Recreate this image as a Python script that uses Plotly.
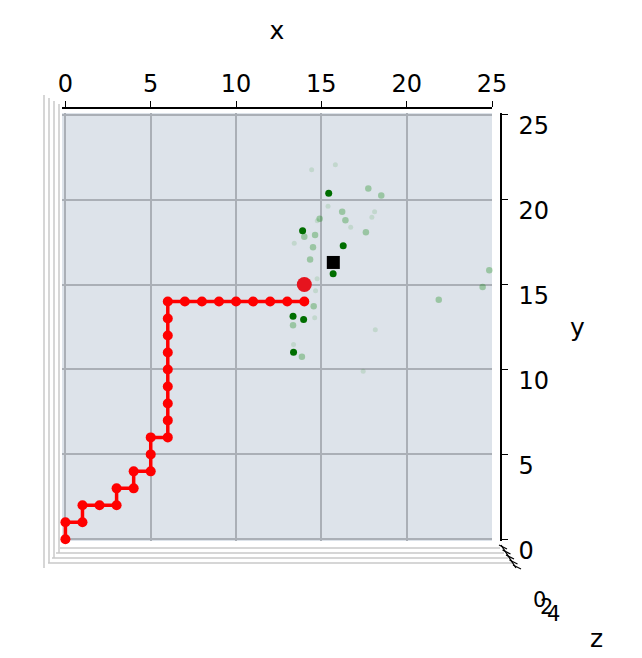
import plotly.graph_objects as go

# ---- data ----
path_x = [0, 0, 1, 1, 2, 3, 3, 4, 4, 5, 5, 5, 6, 6, 6, 6, 6, 6, 6, 6, 6, 7, 8, 9, 10, 11, 12, 13, 14]
path_y = [0, 1, 1, 2, 2, 2, 3, 3, 4, 4, 5, 6, 6, 7, 8, 9, 10, 11, 12, 13, 14, 14, 14, 14, 14, 14, 14, 14, 14]

current_x = [14.0]
current_y = [15.0]

goal_x = [15.7]
goal_y = [16.3]

dark_x = [15.43, 13.90, 16.28, 15.69, 13.34, 13.96, 13.37]
dark_y = [20.37, 18.16, 17.28, 15.63, 13.14, 12.94, 11.02]

mid_x = [17.75, 18.51, 14.63, 14.51, 14.34, 17.61, 14.00, 16.41, 16.22, 14.55, 21.88, 24.45, 24.84, 13.34, 13.86, 14.90]
mid_y = [20.66, 20.24, 17.92, 17.19, 16.47, 18.08, 17.81, 18.78, 19.29, 13.72, 14.10, 14.86, 15.84, 12.61, 10.75, 18.88]

faint_x = [15.82, 18.12, 17.96, 16.72, 14.76, 13.41, 15.39, 14.66, 14.61, 18.16, 28.08, 25.72, 13.37, 14.43, 17.45, 12.94, 14.75]
faint_y = [22.06, 19.29, 18.96, 18.37, 18.76, 17.43, 19.61, 14.63, 13.04, 12.34, 18.00, 14.41, 11.47, 21.76, 9.90, 13.88, 15.34]

tick_vals = [0, 5, 10, 15, 20, 25]
z_tick_labels = ["0", "2", "4"]

FONT = "DejaVu Sans"
FS = 24

fig = go.Figure()

fig.add_trace(go.Scatter(x=faint_x, y=faint_y, mode="markers", cliponaxis=False,
                         marker=dict(color="rgba(0,128,0,0.12)", size=5), showlegend=False))
fig.add_trace(go.Scatter(x=mid_x, y=mid_y, mode="markers", cliponaxis=False,
                         marker=dict(color="rgba(0,128,0,0.3)", size=6.5), showlegend=False))
fig.add_trace(go.Scatter(x=dark_x, y=dark_y, mode="markers", cliponaxis=False,
                         marker=dict(color="rgb(0,110,0)", size=7), showlegend=False))
fig.add_trace(go.Scatter(x=path_x, y=path_y, mode="lines+markers", cliponaxis=False,
                         line=dict(color="red", width=3.5),
                         marker=dict(color="red", size=10), showlegend=False))
fig.add_trace(go.Scatter(x=current_x, y=current_y, mode="markers", cliponaxis=False,
                         marker=dict(color="rgb(230,20,30)", size=15), showlegend=False))
fig.add_trace(go.Scatter(x=goal_x, y=goal_y, mode="markers", cliponaxis=False,
                         marker=dict(color="black", symbol="square", size=13), showlegend=False))

L, T, R, B = 62, 105, 505, 545
W, H = 642, 658
pw, ph = R - L, B - T

def px_x(p):
    return (p - L) / pw

def px_y(p):
    return (B - p) / ph

shapes = []
grey = "rgb(200,200,200)"
# left side pane edges
for i, xx in enumerate([44, 49, 54, 59]):
    shapes.append(dict(type="line", xref="paper", yref="paper",
                       x0=px_x(xx), x1=px_x(xx), y0=px_y(95 + i * 3), y1=px_y(568 - i * 5),
                       line=dict(color=grey, width=1.5), layer="below"))
# bottom pane edges
for i, yy in enumerate([548, 553, 558, 563]):
    shapes.append(dict(type="line", xref="paper", yref="paper",
                       x0=px_x(60 - i * 4), x1=px_x(500 + i * 4), y0=px_y(yy), y1=px_y(yy),
                       line=dict(color=grey, width=1.5), layer="below"))
# z axis line with ticks
shapes.append(dict(type="line", xref="paper", yref="paper",
                   x0=px_x(501), x1=px_x(516), y0=px_y(545), y1=px_y(568),
                   line=dict(color="black", width=1.3)))
for i in range(5):
    cx, cy = 502 + i * 3.5, 547 + i * 5
    shapes.append(dict(type="line", xref="paper", yref="paper",
                       x0=px_x(cx - 3), x1=px_x(cx + 5), y0=px_y(cy - 2), y1=px_y(cy + 2),
                       line=dict(color="black", width=1.2)))

annotations = []
for i, lab in enumerate(z_tick_labels):
    annotations.append(dict(text=lab, xref="paper", yref="paper",
                            x=px_x(539 + i * 7), y=px_y(600 + i * 7),
                            xanchor="center", yanchor="middle",
                            showarrow=False, font=dict(family=FONT, size=21, color="black")))
annotations.append(dict(text="z", xref="paper", yref="paper", x=px_x(596), y=px_y(638),
                        xanchor="center", yanchor="middle",
                        showarrow=False, font=dict(family=FONT, size=25, color="black")))
annotations.append(dict(text="y", xref="paper", yref="paper", x=px_x(577), y=px_y(327),
                        xanchor="center", yanchor="middle",
                        showarrow=False, font=dict(family=FONT, size=25, color="black")))

fig.update_layout(
    width=W, height=H,
    margin=dict(l=L, r=W - R, t=T, b=H - B),
    paper_bgcolor="white",
    plot_bgcolor="rgb(221,227,234)",
    font=dict(family=FONT, size=FS, color="black"),
    xaxis=dict(
        range=[-0.2, 25.0], domain=[0, px_x(492)],
        side="top", anchor="free", position=px_y(108),
        tickvals=tick_vals, ticks="outside", ticklen=6, tickwidth=1.3, tickcolor="black",
        showline=True, linecolor="black", linewidth=1.5,
        showgrid=True, gridcolor="rgb(170,175,182)", gridwidth=1.5, zeroline=False,
        title=dict(text="x", standoff=22, font=dict(size=25)),
    ),
    yaxis=dict(
        range=[-0.1, 25.1], domain=[px_y(541), px_y(113)],
        side="right", anchor="free", position=px_x(501),
        tickvals=tick_vals, ticks="outside", ticklen=6, tickwidth=1.3, tickcolor="black",
        ticklabelstandoff=6, ticklabelshift=11,
        showline=True, linecolor="black", linewidth=1.5,
        showgrid=True, gridcolor="rgb(170,175,182)", gridwidth=1.5, zeroline=False,
    ),
    shapes=shapes,
    annotations=annotations,
)

fig.write_html("out.html")
